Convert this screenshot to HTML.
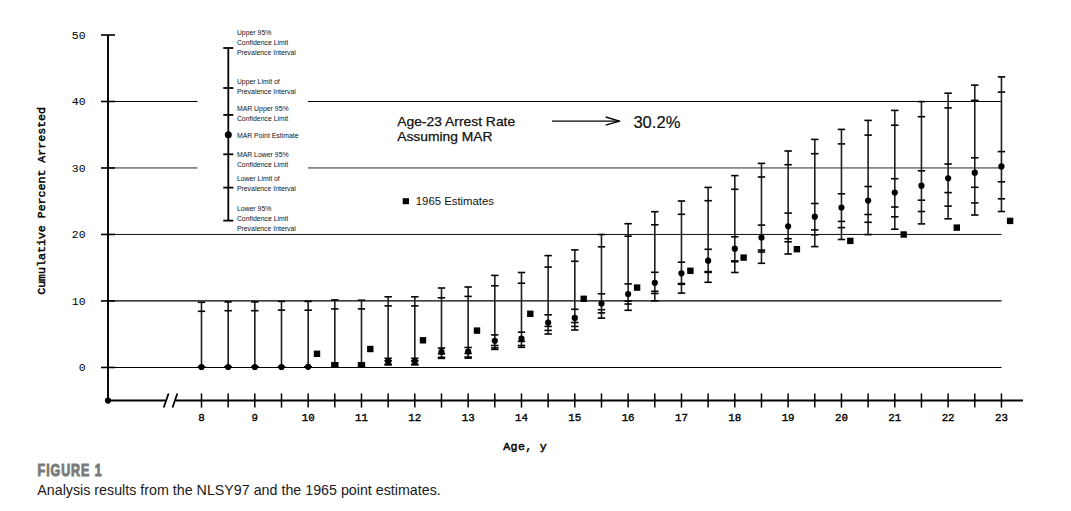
<!DOCTYPE html>
<html><head><meta charset="utf-8"><title>Figure 1</title>
<style>
html,body{margin:0;padding:0;background:#fff;width:1071px;height:511px;overflow:hidden}
svg{display:block}
.g{stroke:#000}
.ax{stroke:#000;stroke-width:1.9}
.axt{stroke:#000;stroke-width:1.6}
.xt{stroke:#000;stroke-width:1.5}
.sl{stroke:#000;stroke-width:1.8;stroke-linecap:round}
.bl{stroke:#1e1e1e;stroke-width:1.6}
.bt{stroke:#000;stroke-width:1.6}
.lg{stroke:#000;stroke-width:1.8}
.ar{stroke:#000;stroke-width:1.4}
text{fill:#000}
.yl{font-family:"Liberation Mono",monospace;font-size:11.5px}
.xl{font-family:"Liberation Mono",monospace;font-size:10.8px;stroke:#000;stroke-width:0.35}
.lt{font-family:"Liberation Sans",sans-serif;font-size:6.9px;fill:#111}
.an{font-family:"Liberation Sans",sans-serif;font-size:13.2px;fill:#111;stroke:#111;stroke-width:0.25}
.pc{font-family:"Liberation Sans",sans-serif;font-size:16.6px;fill:#111;stroke:#111;stroke-width:0.2}
.es{font-family:"Liberation Sans",sans-serif;font-size:11.2px;fill:#111}
.yt{font-family:"Liberation Mono",monospace;font-size:11.6px;stroke:#000;stroke-width:0.45}
.xtl{font-family:"Liberation Mono",monospace;font-size:11.6px;stroke:#000;stroke-width:0.5}
.fig{font-family:"Liberation Sans",sans-serif;font-size:16.4px;font-weight:bold;fill:#7a7a7a;stroke:#7a7a7a;stroke-width:1.0}
.cap{font-family:"Liberation Sans",sans-serif;font-size:14.8px;fill:#1a1a1a}
</style></head>
<body>
<svg width="1071" height="511" viewBox="0 0 1071 511">
<line x1="108" y1="101.5" x2="197.5" y2="101.5" class="g" stroke-width="1.0"/>
<line x1="308" y1="101.5" x2="1001.5" y2="101.5" class="g" stroke-width="1.0"/>
<line x1="108" y1="167.95" x2="197.5" y2="167.95" class="g" stroke-width="0.85"/>
<line x1="308" y1="167.95" x2="1001.5" y2="167.95" class="g" stroke-width="0.85"/>
<line x1="108" y1="234.45" x2="1001.5" y2="234.45" class="g" stroke-width="0.95"/>
<line x1="108" y1="300.95" x2="1001.5" y2="300.95" class="g" stroke-width="1.17"/>
<line x1="108" y1="367.55" x2="1001.5" y2="367.55" class="g" stroke-width="1.1"/>
<line x1="108" y1="35" x2="108" y2="400.6" class="ax"/>
<line x1="101" y1="367.45" x2="115" y2="367.45" class="axt"/>
<text x="85.6" y="371.15" class="yl" text-anchor="end">0</text>
<line x1="101" y1="300.96" x2="115" y2="300.96" class="axt"/>
<text x="85.6" y="304.66" class="yl" text-anchor="end">10</text>
<line x1="101" y1="234.47" x2="115" y2="234.47" class="axt"/>
<text x="85.6" y="238.17" class="yl" text-anchor="end">20</text>
<line x1="101" y1="167.98" x2="115" y2="167.98" class="axt"/>
<text x="85.6" y="171.68" class="yl" text-anchor="end">30</text>
<line x1="101" y1="101.49" x2="115" y2="101.49" class="axt"/>
<text x="85.6" y="105.19" class="yl" text-anchor="end">40</text>
<line x1="101" y1="35" x2="115" y2="35" class="axt"/>
<text x="85.6" y="38.7" class="yl" text-anchor="end">50</text>
<circle cx="108" cy="400.6" r="3.1" fill="#000"/>
<line x1="108" y1="400.5" x2="165.6" y2="400.5" class="ax"/>
<line x1="175.7" y1="400.5" x2="1023" y2="400.5" class="ax"/>
<line x1="164" y1="406.8" x2="168.3" y2="394.2" class="sl"/>
<line x1="172.8" y1="406.8" x2="177.1" y2="394.2" class="sl"/>
<line x1="201.5" y1="393.4" x2="201.5" y2="407.6" class="xt"/>
<text x="201.5" y="420.6" class="xl" text-anchor="middle">8</text>
<line x1="228.16" y1="393.4" x2="228.16" y2="407.6" class="xt"/>
<line x1="254.83" y1="393.4" x2="254.83" y2="407.6" class="xt"/>
<text x="254.83" y="420.6" class="xl" text-anchor="middle">9</text>
<line x1="281.5" y1="393.4" x2="281.5" y2="407.6" class="xt"/>
<line x1="308.16" y1="393.4" x2="308.16" y2="407.6" class="xt"/>
<text x="308.16" y="420.6" class="xl" text-anchor="middle">10</text>
<line x1="334.82" y1="393.4" x2="334.82" y2="407.6" class="xt"/>
<line x1="361.49" y1="393.4" x2="361.49" y2="407.6" class="xt"/>
<text x="361.49" y="420.6" class="xl" text-anchor="middle">11</text>
<line x1="388.15" y1="393.4" x2="388.15" y2="407.6" class="xt"/>
<line x1="414.82" y1="393.4" x2="414.82" y2="407.6" class="xt"/>
<text x="414.82" y="420.6" class="xl" text-anchor="middle">12</text>
<line x1="441.49" y1="393.4" x2="441.49" y2="407.6" class="xt"/>
<line x1="468.15" y1="393.4" x2="468.15" y2="407.6" class="xt"/>
<text x="468.15" y="420.6" class="xl" text-anchor="middle">13</text>
<line x1="494.81" y1="393.4" x2="494.81" y2="407.6" class="xt"/>
<line x1="521.48" y1="393.4" x2="521.48" y2="407.6" class="xt"/>
<text x="521.48" y="420.6" class="xl" text-anchor="middle">14</text>
<line x1="548.14" y1="393.4" x2="548.14" y2="407.6" class="xt"/>
<line x1="574.81" y1="393.4" x2="574.81" y2="407.6" class="xt"/>
<text x="574.81" y="420.6" class="xl" text-anchor="middle">15</text>
<line x1="601.47" y1="393.4" x2="601.47" y2="407.6" class="xt"/>
<line x1="628.14" y1="393.4" x2="628.14" y2="407.6" class="xt"/>
<text x="628.14" y="420.6" class="xl" text-anchor="middle">16</text>
<line x1="654.81" y1="393.4" x2="654.81" y2="407.6" class="xt"/>
<line x1="681.47" y1="393.4" x2="681.47" y2="407.6" class="xt"/>
<text x="681.47" y="420.6" class="xl" text-anchor="middle">17</text>
<line x1="708.13" y1="393.4" x2="708.13" y2="407.6" class="xt"/>
<line x1="734.8" y1="393.4" x2="734.8" y2="407.6" class="xt"/>
<text x="734.8" y="420.6" class="xl" text-anchor="middle">18</text>
<line x1="761.47" y1="393.4" x2="761.47" y2="407.6" class="xt"/>
<line x1="788.13" y1="393.4" x2="788.13" y2="407.6" class="xt"/>
<text x="788.13" y="420.6" class="xl" text-anchor="middle">19</text>
<line x1="814.79" y1="393.4" x2="814.79" y2="407.6" class="xt"/>
<line x1="841.46" y1="393.4" x2="841.46" y2="407.6" class="xt"/>
<text x="841.46" y="420.6" class="xl" text-anchor="middle">20</text>
<line x1="868.12" y1="393.4" x2="868.12" y2="407.6" class="xt"/>
<line x1="894.79" y1="393.4" x2="894.79" y2="407.6" class="xt"/>
<text x="894.79" y="420.6" class="xl" text-anchor="middle">21</text>
<line x1="921.45" y1="393.4" x2="921.45" y2="407.6" class="xt"/>
<line x1="948.12" y1="393.4" x2="948.12" y2="407.6" class="xt"/>
<text x="948.12" y="420.6" class="xl" text-anchor="middle">22</text>
<line x1="974.78" y1="393.4" x2="974.78" y2="407.6" class="xt"/>
<line x1="1001.45" y1="393.4" x2="1001.45" y2="407.6" class="xt"/>
<text x="1001.45" y="420.6" class="xl" text-anchor="middle">23</text>
<line x1="201.5" y1="302.3" x2="201.5" y2="367" class="bl"/>
<line x1="197.8" y1="302.3" x2="205.2" y2="302.3" class="bt"/>
<line x1="197.8" y1="311.3" x2="205.2" y2="311.3" class="bt"/>
<line x1="197.8" y1="367" x2="205.2" y2="367" class="bt"/>
<line x1="197.8" y1="367" x2="205.2" y2="367" class="bt"/>
<line x1="197.8" y1="367" x2="205.2" y2="367" class="bt"/>
<line x1="197.8" y1="367" x2="205.2" y2="367" class="bt"/>
<circle cx="201.5" cy="367" r="3.1"/>
<line x1="228.16" y1="301.9" x2="228.16" y2="367" class="bl"/>
<line x1="224.47" y1="301.9" x2="231.86" y2="301.9" class="bt"/>
<line x1="224.47" y1="310.7" x2="231.86" y2="310.7" class="bt"/>
<line x1="224.47" y1="367" x2="231.86" y2="367" class="bt"/>
<line x1="224.47" y1="367" x2="231.86" y2="367" class="bt"/>
<line x1="224.47" y1="367" x2="231.86" y2="367" class="bt"/>
<line x1="224.47" y1="367" x2="231.86" y2="367" class="bt"/>
<circle cx="228.16" cy="367" r="3.1"/>
<line x1="254.83" y1="301.9" x2="254.83" y2="367" class="bl"/>
<line x1="251.13" y1="301.9" x2="258.53" y2="301.9" class="bt"/>
<line x1="251.13" y1="310.7" x2="258.53" y2="310.7" class="bt"/>
<line x1="251.13" y1="367" x2="258.53" y2="367" class="bt"/>
<line x1="251.13" y1="367" x2="258.53" y2="367" class="bt"/>
<line x1="251.13" y1="367" x2="258.53" y2="367" class="bt"/>
<line x1="251.13" y1="367" x2="258.53" y2="367" class="bt"/>
<circle cx="254.83" cy="367" r="3.1"/>
<line x1="281.5" y1="301.4" x2="281.5" y2="367" class="bl"/>
<line x1="277.8" y1="301.4" x2="285.19" y2="301.4" class="bt"/>
<line x1="277.8" y1="310.1" x2="285.19" y2="310.1" class="bt"/>
<line x1="277.8" y1="367" x2="285.19" y2="367" class="bt"/>
<line x1="277.8" y1="367" x2="285.19" y2="367" class="bt"/>
<line x1="277.8" y1="367" x2="285.19" y2="367" class="bt"/>
<line x1="277.8" y1="367" x2="285.19" y2="367" class="bt"/>
<circle cx="281.5" cy="367" r="3.1"/>
<line x1="308.16" y1="301.4" x2="308.16" y2="366.8" class="bl"/>
<line x1="304.46" y1="301.4" x2="311.86" y2="301.4" class="bt"/>
<line x1="304.46" y1="310.2" x2="311.86" y2="310.2" class="bt"/>
<line x1="304.46" y1="366.8" x2="311.86" y2="366.8" class="bt"/>
<line x1="304.46" y1="366.8" x2="311.86" y2="366.8" class="bt"/>
<line x1="304.46" y1="366.8" x2="311.86" y2="366.8" class="bt"/>
<line x1="304.46" y1="366.8" x2="311.86" y2="366.8" class="bt"/>
<circle cx="308.16" cy="366.8" r="3.1"/>
<line x1="334.82" y1="299.9" x2="334.82" y2="366.9" class="bl"/>
<line x1="331.12" y1="299.9" x2="338.52" y2="299.9" class="bt"/>
<line x1="331.12" y1="308.9" x2="338.52" y2="308.9" class="bt"/>
<line x1="331.12" y1="362.8" x2="338.52" y2="362.8" class="bt"/>
<line x1="331.12" y1="364.2" x2="338.52" y2="364.2" class="bt"/>
<line x1="331.12" y1="365.8" x2="338.52" y2="365.8" class="bt"/>
<line x1="331.12" y1="366.9" x2="338.52" y2="366.9" class="bt"/>
<circle cx="334.82" cy="365" r="3.1"/>
<line x1="361.49" y1="300.2" x2="361.49" y2="366.9" class="bl"/>
<line x1="357.79" y1="300.2" x2="365.19" y2="300.2" class="bt"/>
<line x1="357.79" y1="308.9" x2="365.19" y2="308.9" class="bt"/>
<line x1="357.79" y1="362.8" x2="365.19" y2="362.8" class="bt"/>
<line x1="357.79" y1="364.2" x2="365.19" y2="364.2" class="bt"/>
<line x1="357.79" y1="365.8" x2="365.19" y2="365.8" class="bt"/>
<line x1="357.79" y1="366.9" x2="365.19" y2="366.9" class="bt"/>
<circle cx="361.49" cy="365" r="3.1"/>
<line x1="388.15" y1="296.8" x2="388.15" y2="364.9" class="bl"/>
<line x1="384.45" y1="296.8" x2="391.85" y2="296.8" class="bt"/>
<line x1="384.45" y1="305.9" x2="391.85" y2="305.9" class="bt"/>
<line x1="384.45" y1="358.3" x2="391.85" y2="358.3" class="bt"/>
<line x1="384.45" y1="360.8" x2="391.85" y2="360.8" class="bt"/>
<line x1="384.45" y1="364.2" x2="391.85" y2="364.2" class="bt"/>
<line x1="384.45" y1="364.9" x2="391.85" y2="364.9" class="bt"/>
<circle cx="388.15" cy="361.3" r="3.1"/>
<line x1="414.82" y1="296.8" x2="414.82" y2="364.9" class="bl"/>
<line x1="411.12" y1="296.8" x2="418.52" y2="296.8" class="bt"/>
<line x1="411.12" y1="305.9" x2="418.52" y2="305.9" class="bt"/>
<line x1="411.12" y1="358.3" x2="418.52" y2="358.3" class="bt"/>
<line x1="411.12" y1="360.8" x2="418.52" y2="360.8" class="bt"/>
<line x1="411.12" y1="364.2" x2="418.52" y2="364.2" class="bt"/>
<line x1="411.12" y1="364.9" x2="418.52" y2="364.9" class="bt"/>
<circle cx="414.82" cy="361.3" r="3.1"/>
<line x1="441.49" y1="288" x2="441.49" y2="358.4" class="bl"/>
<line x1="437.79" y1="288" x2="445.19" y2="288" class="bt"/>
<line x1="437.79" y1="297.8" x2="445.19" y2="297.8" class="bt"/>
<line x1="437.79" y1="348" x2="445.19" y2="348" class="bt"/>
<line x1="437.79" y1="353.8" x2="445.19" y2="353.8" class="bt"/>
<line x1="437.79" y1="357.3" x2="445.19" y2="357.3" class="bt"/>
<line x1="437.79" y1="358.4" x2="445.19" y2="358.4" class="bt"/>
<circle cx="441.49" cy="351.9" r="3.1"/>
<line x1="468.15" y1="287" x2="468.15" y2="358.1" class="bl"/>
<line x1="464.45" y1="287" x2="471.85" y2="287" class="bt"/>
<line x1="464.45" y1="296.4" x2="471.85" y2="296.4" class="bt"/>
<line x1="464.45" y1="347.5" x2="471.85" y2="347.5" class="bt"/>
<line x1="464.45" y1="353.4" x2="471.85" y2="353.4" class="bt"/>
<line x1="464.45" y1="357" x2="471.85" y2="357" class="bt"/>
<line x1="464.45" y1="358.1" x2="471.85" y2="358.1" class="bt"/>
<circle cx="468.15" cy="351.6" r="3.1"/>
<line x1="494.81" y1="275.4" x2="494.81" y2="349.4" class="bl"/>
<line x1="491.12" y1="275.4" x2="498.51" y2="275.4" class="bt"/>
<line x1="491.12" y1="285.8" x2="498.51" y2="285.8" class="bt"/>
<line x1="491.12" y1="334.9" x2="498.51" y2="334.9" class="bt"/>
<line x1="491.12" y1="345.5" x2="498.51" y2="345.5" class="bt"/>
<line x1="491.12" y1="347.9" x2="498.51" y2="347.9" class="bt"/>
<line x1="491.12" y1="349.4" x2="498.51" y2="349.4" class="bt"/>
<circle cx="494.81" cy="340.8" r="3.1"/>
<line x1="521.48" y1="272.5" x2="521.48" y2="347.3" class="bl"/>
<line x1="517.78" y1="272.5" x2="525.18" y2="272.5" class="bt"/>
<line x1="517.78" y1="283.2" x2="525.18" y2="283.2" class="bt"/>
<line x1="517.78" y1="332.2" x2="525.18" y2="332.2" class="bt"/>
<line x1="517.78" y1="341.4" x2="525.18" y2="341.4" class="bt"/>
<line x1="517.78" y1="345.5" x2="525.18" y2="345.5" class="bt"/>
<line x1="517.78" y1="347.3" x2="525.18" y2="347.3" class="bt"/>
<circle cx="521.48" cy="338.7" r="3.1"/>
<line x1="548.14" y1="255.6" x2="548.14" y2="334" class="bl"/>
<line x1="544.44" y1="255.6" x2="551.85" y2="255.6" class="bt"/>
<line x1="544.44" y1="267.1" x2="551.85" y2="267.1" class="bt"/>
<line x1="544.44" y1="314.8" x2="551.85" y2="314.8" class="bt"/>
<line x1="544.44" y1="326.4" x2="551.85" y2="326.4" class="bt"/>
<line x1="544.44" y1="330.4" x2="551.85" y2="330.4" class="bt"/>
<line x1="544.44" y1="334" x2="551.85" y2="334" class="bt"/>
<circle cx="548.14" cy="322.5" r="3.1"/>
<line x1="574.81" y1="249.9" x2="574.81" y2="330" class="bl"/>
<line x1="571.11" y1="249.9" x2="578.51" y2="249.9" class="bt"/>
<line x1="571.11" y1="261.3" x2="578.51" y2="261.3" class="bt"/>
<line x1="571.11" y1="309.3" x2="578.51" y2="309.3" class="bt"/>
<line x1="571.11" y1="322.5" x2="578.51" y2="322.5" class="bt"/>
<line x1="571.11" y1="326.4" x2="578.51" y2="326.4" class="bt"/>
<line x1="571.11" y1="330" x2="578.51" y2="330" class="bt"/>
<circle cx="574.81" cy="317.9" r="3.1"/>
<line x1="601.47" y1="234.5" x2="601.47" y2="318.1" class="bl"/>
<line x1="597.77" y1="234.5" x2="605.17" y2="234.5" class="bt"/>
<line x1="597.77" y1="246.8" x2="605.17" y2="246.8" class="bt"/>
<line x1="597.77" y1="293.8" x2="605.17" y2="293.8" class="bt"/>
<line x1="597.77" y1="309.7" x2="605.17" y2="309.7" class="bt"/>
<line x1="597.77" y1="312.9" x2="605.17" y2="312.9" class="bt"/>
<line x1="597.77" y1="318.1" x2="605.17" y2="318.1" class="bt"/>
<circle cx="601.47" cy="303.5" r="3.1"/>
<line x1="628.14" y1="223.7" x2="628.14" y2="310.3" class="bl"/>
<line x1="624.44" y1="223.7" x2="631.84" y2="223.7" class="bt"/>
<line x1="624.44" y1="236.2" x2="631.84" y2="236.2" class="bt"/>
<line x1="624.44" y1="283.9" x2="631.84" y2="283.9" class="bt"/>
<line x1="624.44" y1="301.1" x2="631.84" y2="301.1" class="bt"/>
<line x1="624.44" y1="304" x2="631.84" y2="304" class="bt"/>
<line x1="624.44" y1="310.3" x2="631.84" y2="310.3" class="bt"/>
<circle cx="628.14" cy="294.1" r="3.1"/>
<line x1="654.81" y1="211.7" x2="654.81" y2="300.9" class="bl"/>
<line x1="651.11" y1="211.7" x2="658.51" y2="211.7" class="bt"/>
<line x1="651.11" y1="224.8" x2="658.51" y2="224.8" class="bt"/>
<line x1="651.11" y1="272.3" x2="658.51" y2="272.3" class="bt"/>
<line x1="651.11" y1="291.3" x2="658.51" y2="291.3" class="bt"/>
<line x1="651.11" y1="293.5" x2="658.51" y2="293.5" class="bt"/>
<line x1="651.11" y1="300.9" x2="658.51" y2="300.9" class="bt"/>
<circle cx="654.81" cy="282.8" r="3.1"/>
<line x1="681.47" y1="201" x2="681.47" y2="293.1" class="bl"/>
<line x1="677.77" y1="201" x2="685.17" y2="201" class="bt"/>
<line x1="677.77" y1="214.3" x2="685.17" y2="214.3" class="bt"/>
<line x1="677.77" y1="262.2" x2="685.17" y2="262.2" class="bt"/>
<line x1="677.77" y1="283.5" x2="685.17" y2="283.5" class="bt"/>
<line x1="677.77" y1="284.3" x2="685.17" y2="284.3" class="bt"/>
<line x1="677.77" y1="293.1" x2="685.17" y2="293.1" class="bt"/>
<circle cx="681.47" cy="273.3" r="3.1"/>
<line x1="708.13" y1="187.4" x2="708.13" y2="282.3" class="bl"/>
<line x1="704.43" y1="187.4" x2="711.84" y2="187.4" class="bt"/>
<line x1="704.43" y1="200.7" x2="711.84" y2="200.7" class="bt"/>
<line x1="704.43" y1="249.3" x2="711.84" y2="249.3" class="bt"/>
<line x1="704.43" y1="271.6" x2="711.84" y2="271.6" class="bt"/>
<line x1="704.43" y1="272.4" x2="711.84" y2="272.4" class="bt"/>
<line x1="704.43" y1="282.3" x2="711.84" y2="282.3" class="bt"/>
<circle cx="708.13" cy="260.7" r="3.1"/>
<line x1="734.8" y1="175.6" x2="734.8" y2="272.5" class="bl"/>
<line x1="731.1" y1="175.6" x2="738.5" y2="175.6" class="bt"/>
<line x1="731.1" y1="189.3" x2="738.5" y2="189.3" class="bt"/>
<line x1="731.1" y1="236.8" x2="738.5" y2="236.8" class="bt"/>
<line x1="731.1" y1="260.9" x2="738.5" y2="260.9" class="bt"/>
<line x1="731.1" y1="261.7" x2="738.5" y2="261.7" class="bt"/>
<line x1="731.1" y1="272.5" x2="738.5" y2="272.5" class="bt"/>
<circle cx="734.8" cy="248.7" r="3.1"/>
<line x1="761.47" y1="163.4" x2="761.47" y2="263.3" class="bl"/>
<line x1="757.76" y1="163.4" x2="765.17" y2="163.4" class="bt"/>
<line x1="757.76" y1="177" x2="765.17" y2="177" class="bt"/>
<line x1="757.76" y1="225.1" x2="765.17" y2="225.1" class="bt"/>
<line x1="757.76" y1="250.1" x2="765.17" y2="250.1" class="bt"/>
<line x1="757.76" y1="252" x2="765.17" y2="252" class="bt"/>
<line x1="757.76" y1="263.3" x2="765.17" y2="263.3" class="bt"/>
<circle cx="761.47" cy="237.6" r="3.1"/>
<line x1="788.13" y1="151" x2="788.13" y2="254" class="bl"/>
<line x1="784.43" y1="151" x2="791.83" y2="151" class="bt"/>
<line x1="784.43" y1="164.7" x2="791.83" y2="164.7" class="bt"/>
<line x1="784.43" y1="213.1" x2="791.83" y2="213.1" class="bt"/>
<line x1="784.43" y1="238.7" x2="791.83" y2="238.7" class="bt"/>
<line x1="784.43" y1="241.8" x2="791.83" y2="241.8" class="bt"/>
<line x1="784.43" y1="254" x2="791.83" y2="254" class="bt"/>
<circle cx="788.13" cy="226.3" r="3.1"/>
<line x1="814.79" y1="139.4" x2="814.79" y2="246.6" class="bl"/>
<line x1="811.09" y1="139.4" x2="818.5" y2="139.4" class="bt"/>
<line x1="811.09" y1="153.7" x2="818.5" y2="153.7" class="bt"/>
<line x1="811.09" y1="203.5" x2="818.5" y2="203.5" class="bt"/>
<line x1="811.09" y1="229.9" x2="818.5" y2="229.9" class="bt"/>
<line x1="811.09" y1="234.8" x2="818.5" y2="234.8" class="bt"/>
<line x1="811.09" y1="246.6" x2="818.5" y2="246.6" class="bt"/>
<circle cx="814.79" cy="216.7" r="3.1"/>
<line x1="841.46" y1="129.4" x2="841.46" y2="239.5" class="bl"/>
<line x1="837.76" y1="129.4" x2="845.16" y2="129.4" class="bt"/>
<line x1="837.76" y1="143.9" x2="845.16" y2="143.9" class="bt"/>
<line x1="837.76" y1="193.8" x2="845.16" y2="193.8" class="bt"/>
<line x1="837.76" y1="221.4" x2="845.16" y2="221.4" class="bt"/>
<line x1="837.76" y1="227.6" x2="845.16" y2="227.6" class="bt"/>
<line x1="837.76" y1="239.5" x2="845.16" y2="239.5" class="bt"/>
<circle cx="841.46" cy="207.5" r="3.1"/>
<line x1="868.12" y1="120.4" x2="868.12" y2="234.6" class="bl"/>
<line x1="864.42" y1="120.4" x2="871.83" y2="120.4" class="bt"/>
<line x1="864.42" y1="135.1" x2="871.83" y2="135.1" class="bt"/>
<line x1="864.42" y1="186.5" x2="871.83" y2="186.5" class="bt"/>
<line x1="864.42" y1="214.5" x2="871.83" y2="214.5" class="bt"/>
<line x1="864.42" y1="222.3" x2="871.83" y2="222.3" class="bt"/>
<line x1="864.42" y1="234.6" x2="871.83" y2="234.6" class="bt"/>
<circle cx="868.12" cy="200.6" r="3.1"/>
<line x1="894.79" y1="110.4" x2="894.79" y2="229.2" class="bl"/>
<line x1="891.09" y1="110.4" x2="898.49" y2="110.4" class="bt"/>
<line x1="891.09" y1="125.2" x2="898.49" y2="125.2" class="bt"/>
<line x1="891.09" y1="178.7" x2="898.49" y2="178.7" class="bt"/>
<line x1="891.09" y1="207" x2="898.49" y2="207" class="bt"/>
<line x1="891.09" y1="216.8" x2="898.49" y2="216.8" class="bt"/>
<line x1="891.09" y1="229.2" x2="898.49" y2="229.2" class="bt"/>
<circle cx="894.79" cy="192.6" r="3.1"/>
<line x1="921.45" y1="101.6" x2="921.45" y2="223.9" class="bl"/>
<line x1="917.75" y1="101.6" x2="925.15" y2="101.6" class="bt"/>
<line x1="917.75" y1="116.7" x2="925.15" y2="116.7" class="bt"/>
<line x1="917.75" y1="170.8" x2="925.15" y2="170.8" class="bt"/>
<line x1="917.75" y1="200.2" x2="925.15" y2="200.2" class="bt"/>
<line x1="917.75" y1="211.5" x2="925.15" y2="211.5" class="bt"/>
<line x1="917.75" y1="223.9" x2="925.15" y2="223.9" class="bt"/>
<circle cx="921.45" cy="185.7" r="3.1"/>
<line x1="948.12" y1="93.2" x2="948.12" y2="218.8" class="bl"/>
<line x1="944.42" y1="93.2" x2="951.82" y2="93.2" class="bt"/>
<line x1="944.42" y1="107.9" x2="951.82" y2="107.9" class="bt"/>
<line x1="944.42" y1="164" x2="951.82" y2="164" class="bt"/>
<line x1="944.42" y1="192.6" x2="951.82" y2="192.6" class="bt"/>
<line x1="944.42" y1="206.1" x2="951.82" y2="206.1" class="bt"/>
<line x1="944.42" y1="218.8" x2="951.82" y2="218.8" class="bt"/>
<circle cx="948.12" cy="178.3" r="3.1"/>
<line x1="974.78" y1="85.1" x2="974.78" y2="215" class="bl"/>
<line x1="971.08" y1="85.1" x2="978.49" y2="85.1" class="bt"/>
<line x1="971.08" y1="100.4" x2="978.49" y2="100.4" class="bt"/>
<line x1="971.08" y1="157.8" x2="978.49" y2="157.8" class="bt"/>
<line x1="971.08" y1="187.3" x2="978.49" y2="187.3" class="bt"/>
<line x1="971.08" y1="202.9" x2="978.49" y2="202.9" class="bt"/>
<line x1="971.08" y1="215" x2="978.49" y2="215" class="bt"/>
<circle cx="974.78" cy="172.7" r="3.1"/>
<line x1="1001.45" y1="76.9" x2="1001.45" y2="211.5" class="bl"/>
<line x1="997.75" y1="76.9" x2="1005.15" y2="76.9" class="bt"/>
<line x1="997.75" y1="92.1" x2="1005.15" y2="92.1" class="bt"/>
<line x1="997.75" y1="151.6" x2="1005.15" y2="151.6" class="bt"/>
<line x1="997.75" y1="181.8" x2="1005.15" y2="181.8" class="bt"/>
<line x1="997.75" y1="198.8" x2="1005.15" y2="198.8" class="bt"/>
<line x1="997.75" y1="211.5" x2="1005.15" y2="211.5" class="bt"/>
<circle cx="1001.45" cy="166.4" r="3.1"/>
<rect x="313.8" y="350.6" width="6.4" height="6.4"/>
<rect x="367.1" y="345.8" width="6.4" height="6.4"/>
<rect x="419.8" y="337.1" width="6.4" height="6.4"/>
<rect x="473.8" y="327.4" width="6.4" height="6.4"/>
<rect x="527.1" y="310.6" width="6.4" height="6.4"/>
<rect x="580.5" y="295.6" width="6.4" height="6.4"/>
<rect x="633.9" y="284.4" width="6.4" height="6.4"/>
<rect x="687.2" y="267.6" width="6.4" height="6.4"/>
<rect x="740.4" y="254.4" width="6.4" height="6.4"/>
<rect x="793.7" y="246" width="6.4" height="6.4"/>
<rect x="847.1" y="237.7" width="6.4" height="6.4"/>
<rect x="900.5" y="231.3" width="6.4" height="6.4"/>
<rect x="953.6" y="224.4" width="6.4" height="6.4"/>
<rect x="1006.9" y="217.7" width="6.4" height="6.4"/>
<line x1="228.3" y1="48" x2="228.3" y2="220.6" class="lg"/>
<line x1="223.3" y1="48" x2="233.3" y2="48" class="lg"/>
<line x1="223.3" y1="88" x2="233.3" y2="88" class="lg"/>
<line x1="223.3" y1="114.9" x2="233.3" y2="114.9" class="lg"/>
<line x1="223.3" y1="154.3" x2="233.3" y2="154.3" class="lg"/>
<line x1="223.3" y1="187.6" x2="233.3" y2="187.6" class="lg"/>
<line x1="223.3" y1="220.6" x2="233.3" y2="220.6" class="lg"/>
<circle cx="228.3" cy="134.7" r="3.5"/>
<text x="236.9" y="34.9" class="lt">Upper 95%</text>
<text x="236.9" y="44.5" class="lt">Confidence Limit</text>
<text x="236.9" y="54.5" class="lt">Prevalence Interval</text>
<text x="236.9" y="84.2" class="lt">Upper Limit of</text>
<text x="236.9" y="93.9" class="lt">Prevalence Interval</text>
<text x="236.9" y="110.8" class="lt">MAR Upper 95%</text>
<text x="236.9" y="120.8" class="lt">Confidence Limit</text>
<text x="236.9" y="137.5" class="lt">MAR Point Estimate</text>
<text x="236.9" y="157.3" class="lt">MAR Lower 95%</text>
<text x="236.9" y="167" class="lt">Confidence Limit</text>
<text x="236.9" y="181" class="lt">Lower Limit of</text>
<text x="236.9" y="190.8" class="lt">Prevalence Interval</text>
<text x="236.9" y="210.7" class="lt">Lower 95%</text>
<text x="236.9" y="220.5" class="lt">Confidence Limit</text>
<text x="236.9" y="230.5" class="lt">Prevalence Interval</text>
<text x="397.2" y="126.2" class="an" textLength="118" lengthAdjust="spacingAndGlyphs">Age-23 Arrest Rate</text>
<text x="397.2" y="140.9" class="an" textLength="95.4" lengthAdjust="spacingAndGlyphs">Assuming MAR</text>
<line x1="552" y1="121.1" x2="619.5" y2="121.1" class="ar"/>
<polyline points="605.7,117 619.6,121.1 605.7,125.2" class="ar" fill="none" stroke-linejoin="round"/>
<text x="633.4" y="127.7" class="pc" textLength="47" lengthAdjust="spacingAndGlyphs">30.2%</text>
<rect x="402.7" y="198.2" width="6.3" height="6"/>
<text x="415.8" y="205.2" class="es" textLength="78.2" lengthAdjust="spacingAndGlyphs">1965 Estimates</text>
<text transform="translate(45.4,200.9) rotate(-90)" class="yt" text-anchor="middle">Cumulative Percent Arrested</text>
<text x="503.3" y="449.9" class="xtl" textLength="43.5" lengthAdjust="spacing">Age, y</text>
<text transform="translate(37.6,475.6) scale(0.76,1)" class="fig" textLength="84.2" lengthAdjust="spacing">FIGURE 1</text>
<text x="37.3" y="494.6" class="cap" textLength="403.5" lengthAdjust="spacingAndGlyphs">Analysis results from the NLSY97 and the 1965 point estimates.</text>
</svg>
</body></html>
